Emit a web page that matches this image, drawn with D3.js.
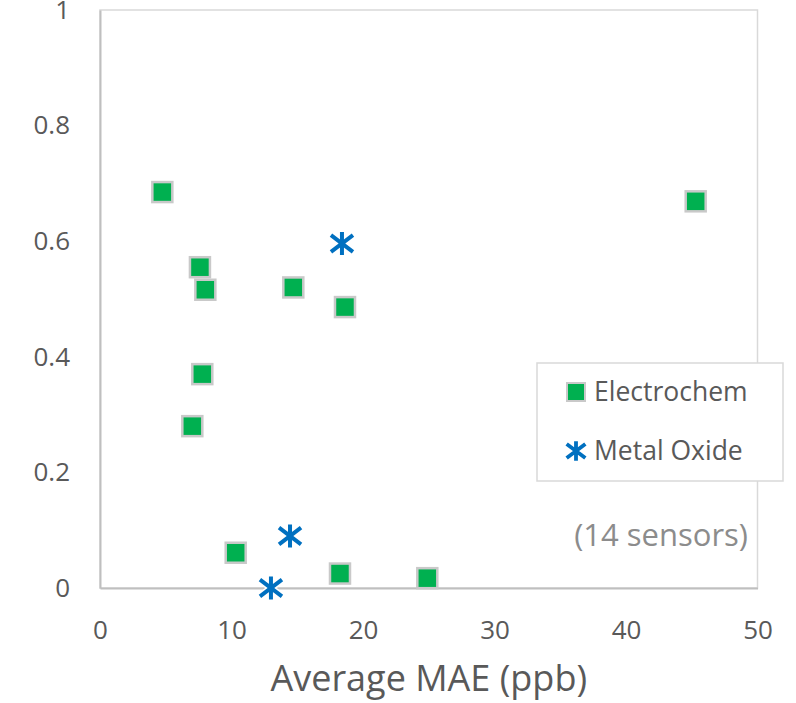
<!DOCTYPE html>
<html>
<head>
<meta charset="utf-8">
<script src="https://cdn.jsdelivr.net/npm/d3@7"></script>
<style>
  body { margin: 0; background: #fff; }
  svg text { font-family: "Open Sans", "Liberation Sans", sans-serif; }
</style>
</head>
<body>
<div id="chart"></div>
<script>
// values
const electrochemMAE = [4.74, 7.60, 8.01, 7.78, 7.02, 10.32, 14.70, 18.63, 18.25, 24.89, 45.3];
const electrochemR2  = [0.685, 0.555, 0.516, 0.370, 0.280, 0.061, 0.520, 0.486, 0.025, 0.017, 0.669];
const metalOxideMAE  = [18.40, 14.45, 13.0];
const metalOxideR2   = [0.596, 0.090, 0.0];
const xTicks = [0, 10, 20, 30, 40, 50];
const yTicks = [0, 0.2, 0.4, 0.6, 0.8, 1];
const seriesNames = ["Electrochem", "Metal Oxide"];
const noteText = "(14 sensors)";
const xTitle = "Average MAE (ppb)";

const W = 796, H = 703;
const margin = {top: 10, right: 38.5, bottom: 115, left: 100};
const width = W - margin.left - margin.right;
const height = H - margin.top - margin.bottom;

const green = "#00b050", blue = "#0070c0", labelColor = "#595959";

const svg = d3.select("#chart").append("svg")
  .attr("width", W).attr("height", H);

const x = d3.scaleLinear().domain([0, 50]).range([0, width]);
const y = d3.scaleLinear().domain([0, 1]).range([height, 0]);

const g = svg.append("g")
  .attr("transform", `translate(${margin.left},${margin.top})`);

// plot frame (top + right light, left + bottom axis darker)
g.append("rect")
  .attr("x", 0).attr("y", 0).attr("width", width).attr("height", height)
  .attr("fill", "none").attr("stroke", "#d9d9d9").attr("stroke-width", 1.5);

// x axis
const xAxis = g.append("g")
  .attr("transform", `translate(0,${height})`)
  .call(d3.axisBottom(x).tickValues(xTicks).tickSize(0).tickPadding(42).tickFormat(d3.format("d")));
xAxis.select(".domain").attr("stroke", "#bfbfbf").attr("stroke-width", 2);
xAxis.selectAll("text").attr("fill", labelColor).style("font-size", "26px")
  .attr("dy", "0.35em");

// y axis
const yAxis = g.append("g")
  .call(d3.axisLeft(y).tickValues(yTicks).tickSize(0).tickPadding(30)
    .tickFormat(d => d === 0 || d === 1 ? d3.format("d")(d) : d3.format(".1f")(d)));
yAxis.select(".domain").attr("stroke", "#bfbfbf").attr("stroke-width", 2);
yAxis.selectAll("text").attr("fill", labelColor).style("font-size", "26px");

// axis title
svg.append("text")
  .attr("x", margin.left + x(25)).attr("y", 691)
  .attr("text-anchor", "middle")
  .attr("fill", labelColor).style("font-size", "36px")
  .text(xTitle);

const starPath = "M0,-11.5V11.5M-11,-8.3L11,8.3M-11,8.3L11,-8.3";

// electrochem squares
const sq = 20;
g.selectAll("rect.ec")
  .data(d3.zip(electrochemMAE, electrochemR2))
  .join("rect")
  .attr("class", "ec")
  .attr("x", d => x(d[0]) - sq / 2)
  .attr("y", d => y(d[1]) - sq / 2)
  .attr("width", sq).attr("height", sq)
  .attr("fill", green).attr("stroke", "#c9c9c9").attr("stroke-width", 2.5);

// metal oxide stars with white halo
const mo = g.selectAll("g.mo")
  .data(d3.zip(metalOxideMAE, metalOxideR2))
  .join("g")
  .attr("class", "mo")
  .attr("transform", d => `translate(${x(d[0])},${y(d[1])})`);
mo.append("path").attr("d", starPath)
  .attr("stroke", "#fff").attr("stroke-width", 7).attr("fill", "none");
mo.append("path").attr("d", starPath)
  .attr("stroke", blue).attr("stroke-width", 4).attr("fill", "none");

// legend
const legend = svg.append("g");
legend.append("rect")
  .attr("x", 537).attr("y", 363).attr("width", 246).attr("height", 118)
  .attr("fill", "#fff").attr("stroke", "#d9d9d9").attr("stroke-width", 1.5);
legend.append("rect")
  .attr("x", 567).attr("y", 383).attr("width", 18).attr("height", 18)
  .attr("fill", green).attr("stroke", "#c9c9c9").attr("stroke-width", 2);
legend.append("path").attr("d", starPath)
  .attr("transform", "translate(576,451) scale(0.85)")
  .attr("stroke", blue).attr("stroke-width", 4.5).attr("fill", "none");
legend.selectAll("text.leg")
  .data(seriesNames)
  .join("text")
  .attr("class", "leg")
  .attr("x", 594).attr("y", (d, i) => 392 + i * 59)
  .attr("dy", "0.35em")
  .attr("fill", labelColor).style("font-size", "26.5px")
  .text(d => d);

// note
svg.append("text")
  .attr("x", 748).attr("y", 535).attr("dy", "0.35em")
  .attr("text-anchor", "end")
  .attr("fill", "#8c8c8c").style("font-size", "31px")
  .text(noteText);
</script>
</body>
</html>
